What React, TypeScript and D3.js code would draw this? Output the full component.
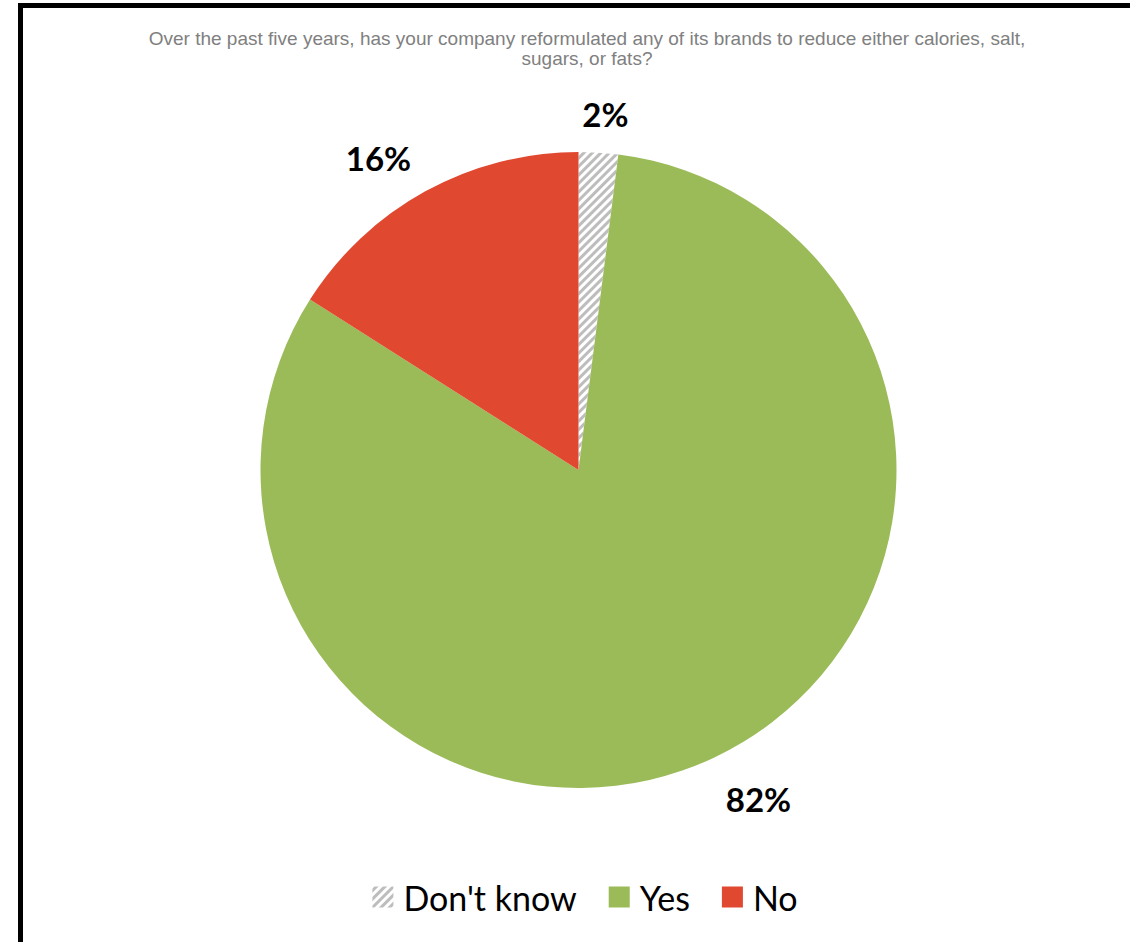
import React, { useEffect, useRef } from "react";
import * as d3 from "d3";

const categories = ["Don't know", "Yes", "No"];
const values = [2, 82, 16];
const labels = ["2%", "82%", "16%"];
const colors = ["url(#hatch)", "#9bbb59", "#e0482f"];
const titleLines = [
  "Over the past five years, has your company reformulated any of its brands to reduce either calories, salt,",
  "sugars, or fats?",
];

const W = 1130;
const H = 942;

export default function App() {
  const ref = useRef<SVGSVGElement>(null);

  useEffect(() => {
    document.body.style.margin = "0";
    const svg = d3.select(ref.current);
    svg.selectAll("*").remove();

    const defs = svg.append("defs");
    const pat = defs
      .append("pattern")
      .attr("id", "hatch")
      .attr("patternUnits", "userSpaceOnUse")
      .attr("width", 6)
      .attr("height", 6)
      .attr("patternTransform", "rotate(45)");
    pat.append("rect").attr("width", 6).attr("height", 6).attr("fill", "#ffffff");
    pat.append("rect").attr("width", 3).attr("height", 6).attr("fill", "#bdbdbd");

    // frame
    svg
      .append("rect")
      .attr("x", 20.5)
      .attr("y", 5.5)
      .attr("width", 1200)
      .attr("height", 1100)
      .attr("fill", "white")
      .attr("stroke", "#000")
      .attr("stroke-width", 5);

    // title
    const title = svg
      .append("text")
      .attr("text-anchor", "middle")
      .attr("font-family", "'Liberation Sans', Arial, sans-serif")
      .attr("font-size", 19)
      .attr("fill", "#808080");
    titleLines.forEach((t, i) => {
      title
        .append("tspan")
        .attr("x", 587)
        .attr("y", 45 + i * 20)
        .text(t);
    });

    const cx = 578.5;
    const cy = 470;
    const r = 318;

    const pie = d3
      .pie<number>()
      .sort(null)
      .value((d) => d);
    const arcs = pie(values);
    const arcGen = d3.arc<d3.PieArcDatum<number>>().innerRadius(0).outerRadius(r);

    const g = svg.append("g").attr("transform", `translate(${cx},${cy})`);
    g.selectAll("path")
      .data(arcs)
      .enter()
      .append("path")
      .attr("d", arcGen)
      .attr("fill", (_, i) => colors[i]);

    // labels
    const lblFont = "Lato, 'Open Sans', sans-serif";
    const R = 360;
    arcs.forEach((a, i) => {
      const mid = (a.startAngle + a.endAngle) / 2;
      const s = Math.sin(mid);
      const t = g
        .append("text")
        .attr("font-family", lblFont)
        .attr("font-weight", "bold")
        .attr("font-size", 33)
        .attr("fill", "#000")
        .attr("text-anchor", "middle")
        .attr("dominant-baseline", "central")
        .text(labels[i]);
      const w = (t.node() as SVGTextElement).getComputedTextLength();
      const x = R * s + (w / 2 - 6) * Math.sign(s) * Math.min(1, Math.abs(s) * 4);
      const y = -R * Math.cos(mid);
      t.attr("x", x).attr("y", y + 3);
    });

    // legend
    const legendOrder = [0, 1, 2];
    const lg = svg.append("g");
    const sw = 21;
    const gapText = 10;
    const gapItem = 32;
    let xPos = 0;
    legendOrder.forEach((i) => {
      const it = lg.append("g");
      it.append("rect")
        .attr("x", 0)
        .attr("y", -sw / 2)
        .attr("width", sw)
        .attr("height", sw)
        .attr("fill", colors[i]);
      const t = it
        .append("text")
        .attr("x", sw + gapText)
        .attr("y", 0)
        .attr("dominant-baseline", "central")
        .attr("font-family", lblFont)
        .attr("font-size", 34)
        .attr("fill", "#000")
        .text(categories[i]);
      const w = (t.node() as SVGTextElement).getComputedTextLength();
      it.attr("transform", `translate(${xPos},0)`);
      xPos += sw + gapText + w + gapItem;
    });
    const total = xPos - gapItem;
    lg.attr("transform", `translate(${585 - total / 2},${897})`);
  }, []);

  return <svg ref={ref} width={W} height={H} style={{ display: "block" }} />;
}
